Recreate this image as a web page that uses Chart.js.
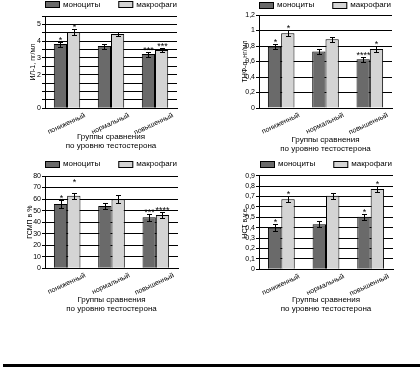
<!DOCTYPE html>
<html><head><meta charset="utf-8">
<script src="https://cdn.jsdelivr.net/npm/chart.js@4.4.0/dist/chart.umd.min.js"></script>
<style>
body{margin:0;background:#fff;width:420px;height:367px;position:relative;overflow:hidden}
canvas{position:absolute}
#rule{position:absolute;left:3px;top:364px;width:417px;height:3px;background:#000}
</style></head><body>
<canvas id="c1" width="210" height="160" style="left:0;top:0"></canvas>
<canvas id="c2" width="210" height="160" style="left:210px;top:0"></canvas>
<canvas id="c3" width="210" height="160" style="left:0;top:158px"></canvas>
<canvas id="c4" width="210" height="160" style="left:210px;top:158px"></canvas>
<div id="rule"></div>
<script>
// ---- data ----
const categories = ["пониженный", "нормальный", "повышенный"];
const seriesNames = ["моноциты", "макрофаги"];
const xTitle = ["Группы сравнения", "по уровню тестостерона"];

// chart 1
const c1Title = "ИЛ-1, пг/мл";
const c1Mono = [3.83, 3.71, 3.23];
const c1MonoErr = [0.15, 0.15, 0.15];
const c1Macro = [4.55, 4.42, 3.47];
const c1MacroErr = [0.18, 0.12, 0.12];
const c1MonoStars = ["*", "", "***"];
const c1MacroStars = ["*", "", "***"];
const c1Ticks = ["0", "", "", "", "2", "", "3", "", "4", "", "5", ""];

// chart 2
const c2Title = "ТНФ-α, нг/мл";
const c2Mono = [0.79, 0.73, 0.63];
const c2MonoErr = [0.035, 0.03, 0.03];
const c2Macro = [0.965, 0.887, 0.76];
const c2MacroErr = [0.035, 0.03, 0.04];
const c2MonoStars = ["*", "", "****"];
const c2MacroStars = ["*", "", "*"];
const c2Ticks = ["0", "0,2", "0,4", "0,6", "0,8", "1", "1,2"];

// chart 3
const c3Title = "ГСМП в %";
const c3Mono = [55.7, 54, 44.2];
const c3MonoErr = [3.2, 3, 3];
const c3Macro = [62.9, 59.8, 46.2];
const c3MacroErr = [2.5, 3.5, 3];
const c3MonoStars = ["*", "", "***"];
const c3MacroStars = ["*", "", "****"];
const c3MacroStarAt = [73, null, null];
const c3Ticks = ["0", "10", "20", "30", "40", "50", "60", "70", "80"];

// chart 4
const c4Title = "НСТ в у.е.";
const c4Mono = [0.40, 0.433, 0.506];
const c4MonoErr = [0.035, 0.03, 0.03];
const c4Macro = [0.673, 0.708, 0.772];
const c4MacroErr = [0.03, 0.03, 0.03];
const c4MonoStars = ["*", "", "*"];
const c4MacroStars = ["*", "", "*"];
const c4Ticks = ["0", "0,1", "0,2", "0,3", "0,4", "0,5", "0,6", "0,7", "0,8", "0,9"];

// ---- styling ----
const FONT = "'Liberation Sans', Arial, sans-serif";
const DARK = "#6a6a6a";
const LIGHT = "#d4d4d4";

const errPlugin = {
  id: 'errbars',
  afterDatasetsDraw(chart) {
    const ctx = chart.ctx;
    const ys = chart.scales.y;
    ctx.save();
    ctx.strokeStyle = '#000';
    ctx.lineWidth = 1;
    ctx.fillStyle = '#000';
    ctx.font = "9px " + FONT;
    ctx.textAlign = 'center';
    ctx.textBaseline = 'bottom';
    chart.data.datasets.forEach((ds, d) => {
      const meta = chart.getDatasetMeta(d);
      meta.data.forEach((el, i) => {
        const v = ds.data[i], e = ds.errors[i];
        const x = Math.round(el.x) + 0.5;
        const yt = Math.round(ys.getPixelForValue(v + e)) + 0.5;
        const yb = Math.round(ys.getPixelForValue(v - e)) + 0.5;
        ctx.beginPath();
        ctx.moveTo(x, yt); ctx.lineTo(x, yb);
        ctx.moveTo(x - 2.5, yt); ctx.lineTo(x + 2.5, yt);
        ctx.moveTo(x - 2.5, yb); ctx.lineTo(x + 2.5, yb);
        ctx.stroke();
        const s = ds.stars[i];
        if (s) {
          const at = ds.starAt && ds.starAt[i] != null ? ys.getPixelForValue(ds.starAt[i]) : yt;
          ctx.fillText(s, x, at + 3);
        }
      });
    });
    ctx.restore();
  }
};

// legend drawn from the datasets, centred over the plot area
const legendPlugin = {
  id: 'rowLegend',
  afterDraw(chart, args, opts) {
    const ctx = chart.ctx;
    const ca = chart.chartArea;
    ctx.save();
    ctx.font = "8px " + FONT;
    const items = chart.data.datasets.map(ds => ({text: ds.label, fill: ds.backgroundColor}));
    const widths = items.map(it => 15 + 3 + ctx.measureText(it.text).width);
    const total = widths.reduce((a, b) => a + b, 0) + 18 * (items.length - 1);
    let x = Math.round((ca.left + ca.right) / 2 - total / 2);
    const yc = opts.y;
    items.forEach((it, i) => {
      ctx.fillStyle = it.fill;
      ctx.fillRect(x, Math.round(yc - 3.5), 15, 7);
      ctx.strokeStyle = '#000';
      ctx.lineWidth = 1;
      ctx.strokeRect(x + 0.5, Math.round(yc - 3.5) + 0.5, 14, 6);
      ctx.fillStyle = '#000';
      ctx.textAlign = 'left';
      ctx.textBaseline = 'middle';
      ctx.fillText(it.text, x + 18, yc);
      x += widths[i] + 18;
    });
    ctx.restore();
  }
};

function makeChart(id, o) {
  new Chart(document.getElementById(id), {
    type: 'bar',
    data: {
      labels: categories,
      datasets: [
        {label: seriesNames[0], data: o.mono, errors: o.monoErr, stars: o.monoStars,
         backgroundColor: DARK, borderColor: '#000', borderWidth: 1,
         categoryPercentage: 0.6, barPercentage: 1},
        {label: seriesNames[1], data: o.macro, errors: o.macroErr, stars: o.macroStars, starAt: o.macroStarAt,
         backgroundColor: LIGHT, borderColor: '#000', borderWidth: 1,
         categoryPercentage: 0.6, barPercentage: 1}
      ]
    },
    options: {
      responsive: false, animation: false, devicePixelRatio: 1,
      layout: {padding: {top: o.top, left: 0, right: o.padR, bottom: 0}},
      plugins: {
        tooltip: {enabled: false},
        legend: {display: false},
        rowLegend: {y: o.legY}
      },
      scales: {
        x: {
          grid: {display: false, drawTicks: false},
          border: {color: '#000'},
          ticks: {autoSkip: false, maxRotation: 25, minRotation: 25, padding: 3, labelOffset: 18,
                  color: '#000', font: {size: 7, family: FONT}},
          title: {display: true, text: xTitle, color: '#000', font: {size: 8, family: FONT, lineHeight: 1.2},
                  padding: {top: 0, bottom: o.xPad}},
          afterFit: s => { s.height = 160 - o.bottom; }
        },
        y: {
          min: 0, max: o.max,
          grid: {color: '#000', lineWidth: 1, tickLength: 3},
          border: {color: '#000'},
          ticks: {stepSize: o.step, autoSkip: false, padding: 1, color: '#000', font: {size: 7, family: FONT},
                  callback: (v, i) => o.ticks[i]},
          title: {display: true, text: o.title, color: '#000', font: {size: 7, family: FONT},
                  padding: {top: o.yPad, bottom: 0}},
          afterFit: s => { s.width = o.left; }
        }
      }
    },
    plugins: [errPlugin, legendPlugin]
  });
}

makeChart('c1', {mono: c1Mono, monoErr: c1MonoErr, macro: c1Macro, macroErr: c1MacroErr,
  monoStars: c1MonoStars, macroStars: c1MacroStars, ticks: c1Ticks, title: c1Title,
  max: 5.5, step: 0.5, left: 45, padR: 33, top: 16, bottom: 108.3, xPad: 9, yPad: 28.5, legY: 4.7});
makeChart('c2', {mono: c2Mono, monoErr: c2MonoErr, macro: c2Macro, macroErr: c2MacroErr,
  monoStars: c2MonoStars, macroStars: c2MacroStars, ticks: c2Ticks, title: c2Title,
  max: 1.2, step: 0.2, left: 49, padR: 28, top: 15, bottom: 108, xPad: 6, yPad: 30.5, legY: 5});
makeChart('c3', {mono: c3Mono, monoErr: c3MonoErr, macro: c3Macro, macroErr: c3MacroErr,
  monoStars: c3MonoStars, macroStars: c3MacroStars, macroStarAt: c3MacroStarAt, ticks: c3Ticks, title: c3Title,
  max: 80, step: 10, left: 45, padR: 32, top: 18, bottom: 110.3, xPad: 4, yPad: 26, legY: 6});
makeChart('c4', {mono: c4Mono, monoErr: c4MonoErr, macro: c4Macro, macroErr: c4MacroErr,
  monoStars: c4MonoStars, macroStars: c4MacroStars, ticks: c4Ticks, title: c4Title,
  max: 0.9, step: 0.1, left: 49, padR: 27, top: 17.7, bottom: 111.3, xPad: 4, yPad: 30.5, legY: 6});
</script>
</body></html>
